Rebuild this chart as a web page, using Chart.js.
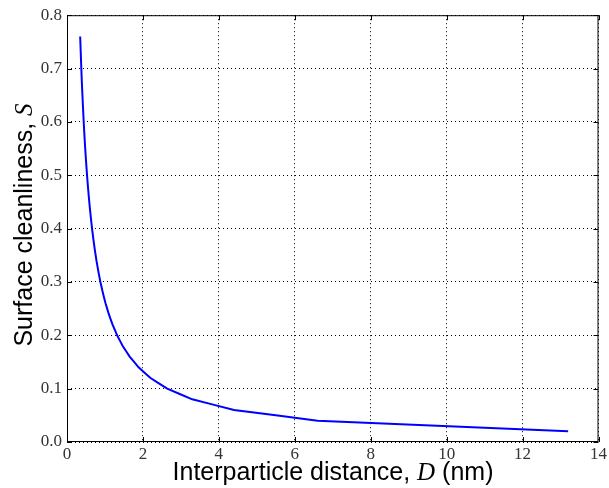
<!DOCTYPE html>
<html>
<head>
<meta charset="utf-8">
<script src="https://cdn.jsdelivr.net/npm/chart.js@4"></script>
<style>
  html, body { margin: 0; padding: 0; background: #fff; }
  #wrap { width: 609px; height: 488px; }
</style>
</head>
<body>
<div id="wrap"><canvas id="chart" width="609" height="488"></canvas></div>
<script>
// interparticle distance D (nm) and surface cleanliness S
const distance = [
  13.2, 6.6, 4.4, 3.3, 2.64, 2.2, 1.886, 1.65, 1.467, 1.32,
  1.2, 1.1, 1.015, 0.943, 0.88, 0.825, 0.776, 0.733, 0.695, 0.66,
  0.629, 0.6, 0.574, 0.55, 0.528, 0.508, 0.489, 0.471, 0.455, 0.44,
  0.426, 0.413, 0.4, 0.388, 0.377, 0.367, 0.357, 0.347
];
const cleanliness = [
  0.02, 0.04, 0.06, 0.08, 0.10, 0.12, 0.14, 0.16, 0.18, 0.20,
  0.22, 0.24, 0.26, 0.28, 0.30, 0.32, 0.34, 0.36, 0.38, 0.40,
  0.42, 0.44, 0.46, 0.48, 0.50, 0.52, 0.54, 0.56, 0.58, 0.60,
  0.62, 0.64, 0.66, 0.68, 0.70, 0.72, 0.74, 0.76
];
const xTicks = [0, 2, 4, 6, 8, 10, 12, 14];
const yTicks = [0.0, 0.1, 0.2, 0.3, 0.4, 0.5, 0.6, 0.7, 0.8];

const tickFont = { family: '"Liberation Serif", "DejaVu Serif", serif', size: 17 };

// frame, inward ticks and mixed-font axis titles (matplotlib look)
const framePlugin = {
  id: 'frame',
  afterDraw(chart) {
    const { ctx, chartArea: a, scales } = chart;
    ctx.save();
    ctx.strokeStyle = '#000';
    ctx.lineWidth = 1;
    ctx.strokeRect(a.left + 0.5, a.top + 0.5, a.right - a.left - 1, a.bottom - a.top - 1);
    ctx.beginPath();
    xTicks.forEach(v => {
      const x = Math.round(scales.x.getPixelForValue(v)) + 0.5;
      ctx.moveTo(x, a.bottom); ctx.lineTo(x, a.bottom - 5);
      ctx.moveTo(x, a.top); ctx.lineTo(x, a.top + 5);
    });
    yTicks.forEach(v => {
      const y = Math.round(scales.y.getPixelForValue(v)) + 0.5;
      ctx.moveTo(a.left, y); ctx.lineTo(a.left + 5, y);
      ctx.moveTo(a.right, y); ctx.lineTo(a.right - 5, y);
    });
    ctx.stroke();

    const sans = '25px "Liberation Sans", Arial, sans-serif';
    const ital = 'italic 25px "Liberation Serif", "DejaVu Serif", serif';
    function drawParts(parts) {
      let w = 0;
      parts.forEach(p => { ctx.font = p[1]; w += ctx.measureText(p[0]).width; });
      let x = -w / 2;
      parts.forEach(p => {
        ctx.font = p[1];
        ctx.fillText(p[0], x, 0);
        x += ctx.measureText(p[0]).width;
      });
    }
    ctx.fillStyle = '#000';
    ctx.textBaseline = 'alphabetic';
    ctx.textAlign = 'left';

    ctx.save();
    ctx.translate(333, 480);
    drawParts([['Interparticle distance, ', sans], ['D', ital], [' (nm)', sans]]);
    ctx.restore();

    ctx.save();
    ctx.translate(32, 225);
    ctx.rotate(-Math.PI / 2);
    drawParts([['Surface cleanliness, ', sans], ['S', ital]]);
    ctx.restore();

    ctx.restore();
  }
};

new Chart(document.getElementById('chart'), {
  type: 'line',
  data: {
    datasets: [{
      data: distance.map((d, i) => ({ x: d, y: cleanliness[i] })),
      borderColor: '#0000ff',
      borderWidth: 2,
      pointRadius: 0,
      tension: 0.0001,
      fill: false
    }]
  },
  options: {
    responsive: false,
    animation: false,
    layout: { padding: { top: 13, right: 9, left: 0, bottom: 0 } },
    plugins: { legend: { display: false }, tooltip: { enabled: false } },
    scales: {
      x: {
        type: 'linear',
        min: 0, max: 14,
        afterBuildTicks: s => { s.ticks = xTicks.map(v => ({ value: v })); },
        afterFit: s => { s.height = 46; },
        grid: { color: '#000', lineWidth: 1, drawTicks: false },
        border: { display: false, dash: [1, 3] },
        ticks: { color: '#333', font: tickFont, padding: 2, maxRotation: 0 }
      },
      y: {
        type: 'linear',
        min: 0, max: 0.8,
        afterBuildTicks: s => { s.ticks = yTicks.map(v => ({ value: v })); },
        afterFit: s => { s.width = 67; },
        grid: { color: '#000', lineWidth: 1, drawTicks: false },
        border: { display: false, dash: [1, 3] },
        ticks: { color: '#333', font: tickFont, padding: 5, callback: v => v.toFixed(1) }
      }
    }
  },
  plugins: [framePlugin]
});
</script>
</body>
</html>
